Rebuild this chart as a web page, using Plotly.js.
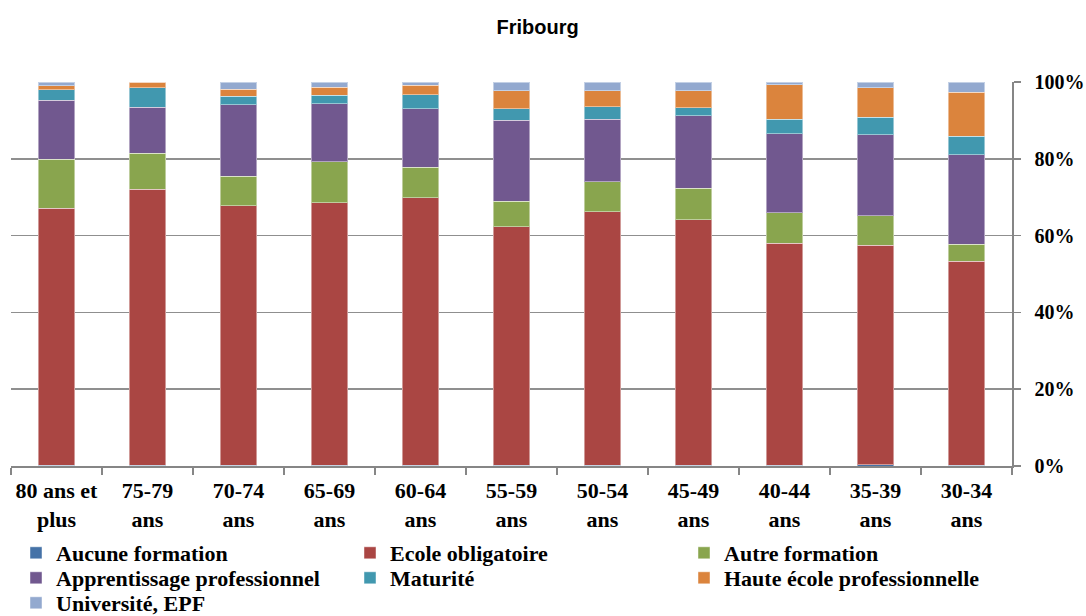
<!DOCTYPE html>
<html>
<head>
<meta charset="utf-8">
<script src="https://cdn.plot.ly/plotly-3.0.1.min.js"></script>
<style>html,body{margin:0;padding:0;background:#fff;}#chart{width:1086px;height:616px;}</style>
</head>
<body>
<div id="chart"></div>
<script>
const categories = ["80 ans et<br>plus","75-79<br>ans","70-74<br>ans","65-69<br>ans","60-64<br>ans","55-59<br>ans","50-54<br>ans","45-49<br>ans","40-44<br>ans","35-39<br>ans","30-34<br>ans"];

const aucuneFormation       = [0.2, 0.2, 0.2, 0.2, 0.2, 0.2, 0.2, 0.2, 0.2, 0.3, 0.2];
const ecoleObligatoire      = [66.9, 71.9, 67.6, 68.4, 69.6, 62.1, 66.0, 63.9, 57.8, 57.2, 53.1];
const autreFormation        = [12.8, 9.4, 7.6, 10.6, 8.0, 6.7, 7.8, 8.2, 7.9, 7.7, 4.5];
const apprentissage         = [15.3, 11.9, 18.7, 15.2, 15.3, 21.0, 16.3, 18.9, 20.6, 21.0, 23.3];
const maturite              = [2.8, 5.1, 2.2, 2.1, 3.6, 3.0, 3.2, 2.1, 3.8, 4.6, 4.8];
const hauteEcole            = [1.0, 1.5, 1.8, 2.1, 2.4, 4.7, 4.2, 4.4, 9.0, 7.7, 11.4];
const universite            = [1.0, 0.0, 1.9, 1.4, 0.9, 2.3, 2.3, 2.3, 0.7, 1.5, 2.7];

const seriesNames  = ["Aucune formation","Ecole obligatoire","Autre formation","Apprentissage professionnel","Maturité","Haute école professionnelle","Université, EPF"];
const seriesValues = [aucuneFormation, ecoleObligatoire, autreFormation, apprentissage, maturite, hauteEcole, universite];
const seriesColors = ["#4572A7","#AA4643","#89A54E","#71588F","#4198AF","#DB843D","#93A9CF"];
// legend row of each series (three entries per row, as in the reference)
const legendRows   = ["legend","legend","legend","legend2","legend2","legend2","legend3"];

const traces = seriesNames.map((n, i) => ({
  type: 'bar',
  name: n,
  x: categories,
  y: seriesValues[i],
  legend: legendRows[i],
  marker: {color: seriesColors[i], line: {color: 'rgba(255,255,255,0.45)', width: 1}},
  hoverinfo: 'name+y'
}));

const serif = '"Liberation Serif", "DejaVu Serif", serif';
const legendBase = {
  orientation: 'h', x: 0.005, xanchor: 'left', yanchor: 'middle',
  entrywidth: 289, entrywidthmode: 'pixels',
  font: {family: serif, size: 22, color: '#000', weight: 'bold'},
  traceorder: 'normal', itemclick: false, bgcolor: 'rgba(0,0,0,0)'
};

const layout = {
  width: 1086, height: 616,
  paper_bgcolor: '#fff', plot_bgcolor: '#fff',
  barmode: 'stack',
  bargap: 0.6,
  margin: {l: 11, r: 74, t: 82, b: 150, autoexpand: false},
  title: {text: '<b>Fribourg</b>', font: {family: '"Liberation Sans", Arial, sans-serif', size: 20, color: '#000'},
          xref: 'container', x: 0.495, xanchor: 'center', yref: 'container', y: 1 - 27/616, yanchor: 'middle'},
  xaxis: {
    type: 'category',
    tickangle: 0,
    showline: true, linecolor: '#868686', linewidth: 1.5,
    ticks: 'outside', tickson: 'boundaries', ticklen: 7, tickcolor: '#868686', tickwidth: 1.5,
    ticklabelstandoff: 4,
    tickfont: {family: serif, size: 22, color: '#000', weight: 'bold'},
    showgrid: false
  },
  yaxis: {
    side: 'right', range: [0, 100], dtick: 20, ticksuffix: '%',
    showline: true, linecolor: '#868686', linewidth: 1.5,
    ticks: 'outside', ticklen: 7, tickcolor: '#868686', tickwidth: 1.5,
    ticklabelstandoff: 10,
    showgrid: true, gridcolor: '#8f8f8f', gridwidth: 1.5,
    zeroline: false,
    tickfont: {family: serif, size: 20, color: '#000', weight: 'bold'}
  },
  legend:  Object.assign({}, legendBase, {y: -(553 - 466) / 384}),
  legend2: Object.assign({}, legendBase, {y: -(578 - 466) / 384}),
  legend3: Object.assign({}, legendBase, {y: -(603 - 466) / 384}),
  showlegend: true
};

Plotly.newPlot('chart', traces, layout, {displayModeBar: false, staticPlot: true});
</script>
</body>
</html>
